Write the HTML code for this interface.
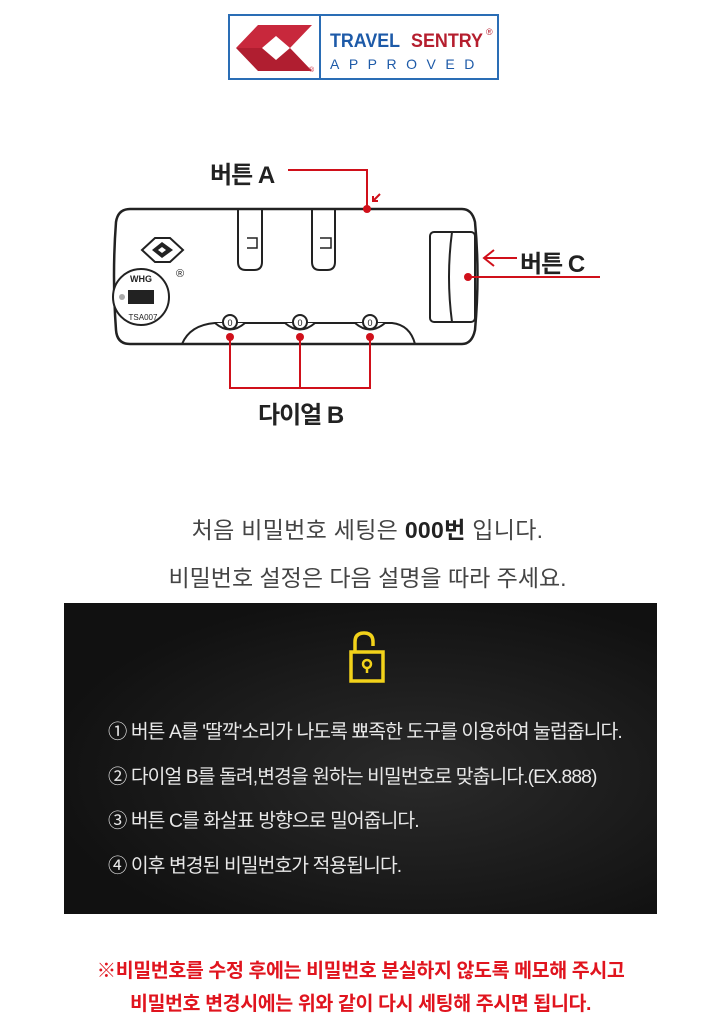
<!DOCTYPE html>
<html><head><meta charset="utf-8"><style>
body{margin:0;width:711px;height:1024px;background:#fff;position:relative;overflow:hidden;font-family:"Liberation Sans","Noto Sans CJK KR",sans-serif}
.t{position:absolute;white-space:nowrap}
</style></head><body>
<svg width="711" height="460" style="position:absolute;left:0;top:0">
<rect x="229" y="15" width="269" height="64" fill="#fff" stroke="#2a6db5" stroke-width="2"/>
<line x1="320" y1="15" x2="320" y2="79" stroke="#2a6db5" stroke-width="2"/>
<polygon points="236,48 258,25 312,25 290,48" fill="#c8283c"/>
<polygon points="236,48 258,71 312,71 290,48" fill="#b01e30"/>
<polygon points="262,48 276,36 290,48 276,60" fill="#fff"/>
<text x="309" y="72" font-size="7" fill="#c8283c">®</text>
<text x="330" y="47" font-size="19" font-weight="bold" fill="#1d5aa8" textLength="70" lengthAdjust="spacingAndGlyphs">TRAVEL</text>
<text x="411" y="47" font-size="19" font-weight="bold" fill="#b51e2e" textLength="72" lengthAdjust="spacingAndGlyphs">SENTRY</text>
<text x="486" y="35" font-size="9" fill="#b51e2e">®</text>
<text x="330" y="69" font-size="14" fill="#1d5aa8" letter-spacing="9.5">APPROVED</text>
<path d="M130,209 H462 Q472,209 475,222 Q480,275 475,330 Q472,344 462,344 H130 Q117,344 116,330 Q112,275 116,222 Q118,209 130,209 Z" fill="#fff" stroke="#222" stroke-width="2.5"/>
<path d="M238,209 V262 Q238,270 246,270 H254 Q262,270 262,262 V209" fill="none" stroke="#222" stroke-width="2"/>
<path d="M247,238 H257 V248 H247" fill="none" stroke="#222" stroke-width="1.5"/>
<path d="M312,209 V262 Q312,270 320,270 H327 Q335,270 335,262 V209" fill="none" stroke="#222" stroke-width="2"/>
<path d="M320,238 H331 V248 H320" fill="none" stroke="#222" stroke-width="1.5"/>
<rect x="430" y="232" width="45" height="90" rx="4" fill="#fff" stroke="#222" stroke-width="2"/>
<path d="M452,232 Q446,277 452,322" fill="none" stroke="#222" stroke-width="2"/>
<path d="M182,344 Q190,325 215,323 H392 Q410,325 415,344" fill="none" stroke="#222" stroke-width="2"/>
<g fill="#fff" stroke="#222" stroke-width="2">
<path d="M215,323 Q230,336 245,323"/><circle cx="230" cy="322" r="7"/>
<path d="M285,323 Q300,336 315,323"/><circle cx="300" cy="322" r="7"/>
<path d="M355,323 Q370,336 385,323"/><circle cx="370" cy="322" r="7"/>
</g>
<g font-size="9" text-anchor="middle" fill="#222"><text x="230" y="326">0</text><text x="300" y="326">0</text><text x="370" y="326">0</text></g>
<polygon points="142,250 155,238 170,238 183,250 170,262 155,262" fill="#fff" stroke="#222" stroke-width="2"/>
<polygon points="152,250 162,242 173,250 162,258" fill="#222"/>
<polygon points="158,250 162,247 166,250 162,253" fill="#fff"/>
<text x="176" y="277" font-size="11" fill="#222">®</text>
<circle cx="141" cy="297" r="28" fill="#fff" stroke="#222" stroke-width="2"/>
<rect x="128" y="290" width="26" height="14" fill="#222"/>
<circle cx="122" cy="297" r="3" fill="#aaa"/>
<text x="141" y="282" font-size="9" text-anchor="middle" fill="#222" font-weight="bold">WHG</text>
<text x="143" y="320" font-size="8" text-anchor="middle" fill="#222">TSA007</text>
<g stroke="#d0101a" stroke-width="2" fill="none">
<polyline points="288,170 367,170 367,209"/>
<path d="M380,194 L373,201 M373,196 V201 H378"/>
<line x1="468" y1="277" x2="600" y2="277"/>
<line x1="484" y1="258" x2="517" y2="258"/>
<polyline points="494,250 484,258 494,266"/>
<polyline points="230,337 230,388 370,388 370,337"/>
<line x1="300" y1="337" x2="300" y2="388"/>
</g>
<g fill="#d0101a"><circle cx="367" cy="209" r="4"/><circle cx="468" cy="277" r="4"/><circle cx="230" cy="337" r="4"/><circle cx="300" cy="337" r="4"/><circle cx="370" cy="337" r="4"/></g>
</svg>
<div class="t" style="left:210px;top:155px;font-size:24px;font-weight:bold;color:#222;letter-spacing:-1px">버튼 A</div>
<div class="t" style="left:520px;top:244px;font-size:24px;font-weight:bold;color:#222;letter-spacing:-1px">버튼 C</div>
<div class="t" style="left:258px;top:395px;font-size:24px;font-weight:bold;color:#222;letter-spacing:-1px">다이얼 B</div>
<div class="t" style="left:12px;width:711px;text-align:center;top:511px;font-size:23px;color:#444;letter-spacing:0.3px">처음 비밀번호 세팅은 <b style="color:#222">000번</b> 입니다.</div>
<div class="t" style="left:12px;width:711px;text-align:center;top:559px;font-size:23px;color:#444;letter-spacing:0">비밀번호 설정은 다음 설명을 따라 주세요.</div>
<div style="position:absolute;left:64px;top:603px;width:593px;height:311px;background:radial-gradient(ellipse at 60% 55%,#2a2a2a,#111 75%)"></div>
<svg width="50" height="60" style="position:absolute;left:343px;top:628px">
<path d="M12,24 V14 Q12,5 21,5 Q30,5 30,14 V18" fill="none" stroke="#f2d21a" stroke-width="3.5"/>
<rect x="8" y="24" width="32" height="29" fill="none" stroke="#f2d21a" stroke-width="3.5"/>
<circle cx="24" cy="36" r="4" fill="none" stroke="#f2d21a" stroke-width="2.5"/>
<line x1="24" y1="40" x2="24" y2="45" stroke="#f2d21a" stroke-width="2.5"/>
</svg>
<div style="position:absolute;left:108px;top:711px;color:#e8e8e8;font-size:19.3px;letter-spacing:-0.9px;line-height:44.5px">
<div>① 버튼 A를 '딸깍'소리가 나도록 뾰족한 도구를 이용하여 눌럽줍니다.</div>
<div>② 다이얼 B를 돌려,변경을 원하는 비밀번호로 맞춥니다.(EX.888)</div>
<div>③ 버튼 C를 화살표 방향으로 밀어줍니다.</div>
<div>④ 이후 변경된 비밀번호가 적용됩니다.</div>
</div>
<div class="t" style="left:5px;width:711px;text-align:center;top:954px;font-size:19.5px;font-weight:bold;color:#e0141e;letter-spacing:-0.4px">※비밀번호를 수정 후에는 비밀번호 분실하지 않도록 메모해 주시고</div>
<div class="t" style="left:5px;width:711px;text-align:center;top:987px;font-size:19.5px;font-weight:bold;color:#e0141e;letter-spacing:-0.4px">비밀번호 변경시에는 위와 같이 다시 세팅해 주시면 됩니다.</div>
</body></html>
